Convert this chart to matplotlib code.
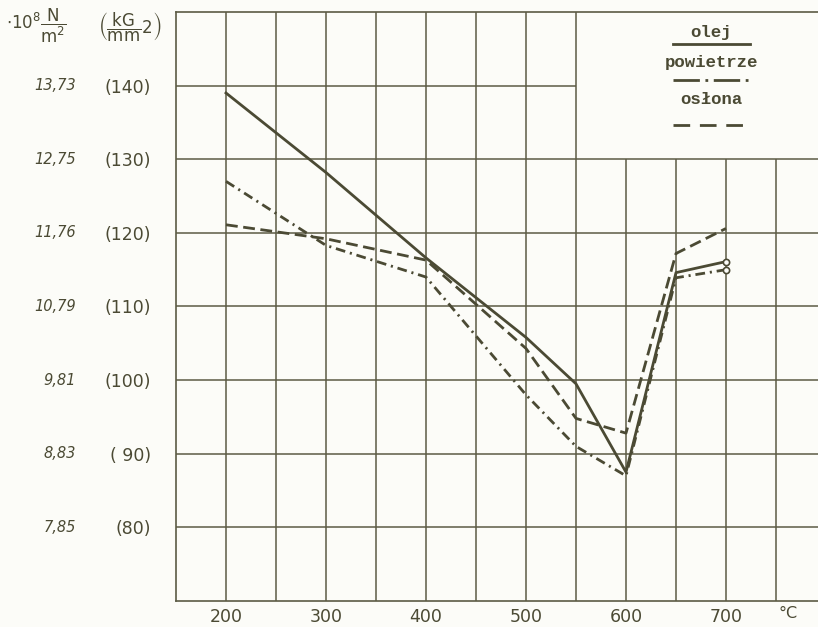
import matplotlib
matplotlib.use("Agg")
import matplotlib.pyplot as plt
from matplotlib.lines import Line2D
from matplotlib.transforms import blended_transform_factory

# ---- data ----
temps = [200, 300, 400, 500, 550, 600, 650, 700]
olej = [139.0, 128.2, 116.6, 105.8, 99.5, 87.5, 114.6, 116.1]
powietrze = [127.0, 118.3, 114.0, 98.0, 91.0, 87.0, 113.9, 115.0]
oslona = [121.1, 119.2, 116.3, 104.3, 94.8, 92.8, 117.2, 120.6]

xtick_vals = [200, 300, 400, 500, 600, 700]
xtick_labels = ["200", "300", "400", "500", "600", "700"]
ytick_vals = [140, 130, 120, 110, 100, 90, 80]
ytick_kg = ["(140)", "(130)", "(120)", "(110)", "(100)", "( 90)", "(80)"]
ytick_N = ["13,73", "12,75", "11,76", "10,79", "9,81", "8,83", "7,85"]
legend_labels = ["olej", "powietrze", "osłona"]

INK = "#4b4a34"
GRID = "#5c5b45"
BG = "#fcfcf8"

plt.rcParams["lines.scale_dashes"] = False

W, H = 818, 627
fig = plt.figure(figsize=(W / 100, H / 100), dpi=100, facecolor=BG)

def fx(px):
    return px / W

def fy(py):
    return 1 - py / H

ax_l, ax_r, ax_t, ax_b = 176, 818, 12, 601
ax = fig.add_axes([fx(ax_l), fy(ax_b), fx(ax_r - ax_l), (ax_b - ax_t) / H], facecolor=BG)
ax.set_xlim(150, 150 + (ax_r - ax_l))
ax.set_ylim(70, 150)

# grid (partial, as in the original drawing)
for x in range(200, 751, 50):
    top = 150 if x <= 550 else 130
    ax.vlines(x, 70, top, color=GRID, lw=1.1, zorder=1)
for y in range(80, 141, 10):
    right = 550 if y == 140 else ax.get_xlim()[1]
    ax.hlines(y, 150, right, color=GRID, lw=1.1, zorder=1)

ax.spines["right"].set_visible(False)
for s in ["left", "bottom", "top"]:
    ax.spines[s].set_color(GRID)
    ax.spines[s].set_linewidth(1.2)

# series
ax.plot(temps, olej, color=INK, lw=2.0, ls="-", zorder=3)
ax.plot(temps, powietrze, color=INK, lw=2.0, dashes=(7, 3.5, 1.5, 3.5), zorder=3)
ax.plot(temps, oslona, color=INK, lw=2.0, dashes=(8.5, 4), zorder=3)
ax.plot([temps[-1], temps[-1]], [olej[-1], powietrze[-1]], ls="none", marker="o",
        ms=4.5, mfc=BG, mec=INK, mew=1.2, zorder=4)

# ticks
ax.set_xticks(xtick_vals)
ax.set_xticklabels(xtick_labels, fontsize=12.5, color=INK)
ax.set_yticks(ytick_vals)
ax.set_yticklabels(ytick_kg, fontsize=12.5, color=INK)
ax.tick_params(axis="x", length=0, pad=5)
ax.tick_params(axis="y", length=0, pad=18)

trans = blended_transform_factory(fig.transFigure, ax.transData)
for v, lab in zip(ytick_vals, ytick_N):
    t = fig.text(fx(76), v, lab, transform=trans, fontsize=10.5, color=INK,
                 ha="right", va="center", style="italic")

fig.text(fx(778), fy(613), "°C", fontsize=11.5, color=INK, ha="left", va="center")

# header units
fig.text(fx(6), fy(26), r"$\cdot 10^{8}\dfrac{\mathrm{N}}{\mathrm{m}^{2}}$",
         fontsize=12, color=INK, ha="left", va="center")
fig.text(fx(98), fy(27), r"$\left(\dfrac{\mathrm{kG}}{\mathrm{mm}}2\right)$",
         fontsize=12, color=INK, ha="left", va="center")

# legend (drawn in the blank box)
mono = "Liberation Mono"
cx = 711
fig.text(fx(cx), fy(33), legend_labels[0], family=mono, fontsize=12.5, color=INK,
         ha="center", va="center", fontweight="bold")
fig.add_artist(Line2D([fx(673), fx(750)], [fy(44), fy(44)], color=INK, lw=2.0))
fig.text(fx(cx), fy(63), legend_labels[1], family=mono, fontsize=12.5, color=INK,
         ha="center", va="center", fontweight="bold")
fig.add_artist(Line2D([fx(673), fx(750)], [fy(80), fy(80)], color=INK, lw=2.0,
                      dashes=(19, 4, 2, 4)))
fig.text(fx(cx), fy(99), legend_labels[2], family=mono, fontsize=12.5, color=INK,
         ha="center", va="center", fontweight="bold")
fig.add_artist(Line2D([fx(673), fx(750)], [fy(125), fy(125)], color=INK, lw=2.0,
                      dashes=(12, 7)))

fig.savefig("out.png", dpi=100, facecolor=BG)
